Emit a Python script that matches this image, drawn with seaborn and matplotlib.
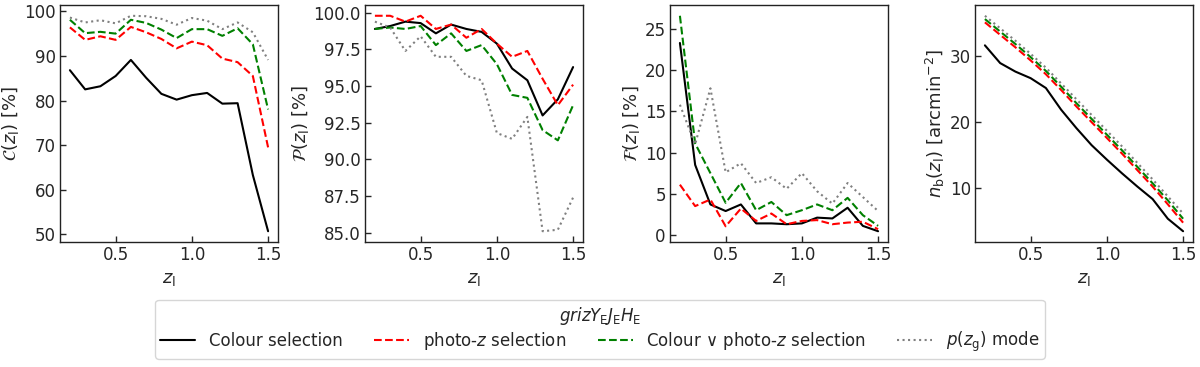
import numpy as np
import pandas as pd
import matplotlib
matplotlib.use("Agg")
import matplotlib.pyplot as plt
import seaborn as sns

z = [0.2, 0.3, 0.4, 0.5, 0.6, 0.7, 0.8, 0.9, 1.0, 1.1, 1.2, 1.3, 1.4, 1.5]
series_names = ["Colour selection", "photo-$z$ selection",
                r"Colour $\vee$ photo-$z$ selection", r"$p(z_{\rm g})$ mode"]

C_colour = [86.8, 82.5, 83.2, 85.5, 89.1, 85.1, 81.5, 80.2, 81.2, 81.7, 79.3, 79.4, 63.3, 50.7]
C_photoz = [96.4, 93.6, 94.4, 93.6, 96.5, 95.3, 93.8, 91.7, 93.2, 92.4, 89.4, 88.6, 85.5, 69.5]
C_union = [98.1, 95.1, 95.4, 95.0, 98.1, 97.4, 95.9, 94.0, 96.0, 96.0, 94.5, 96.2, 92.6, 78.0]
C_mode = [98.6, 97.5, 98.0, 97.3, 99.0, 98.9, 98.3, 97.0, 98.5, 97.9, 96.0, 97.5, 95.3, 89.1]

P_colour = [98.9, 99.1, 99.4, 99.3, 98.6, 99.2, 98.9, 98.7, 97.9, 96.2, 95.4, 93.0, 94.1, 96.3]
P_photoz = [99.8, 99.8, 99.4, 99.8, 98.9, 99.2, 98.3, 98.9, 97.9, 97.0, 97.4, 95.5, 93.7, 95.1]
P_union = [98.9, 99.0, 98.9, 99.1, 97.8, 98.6, 97.4, 97.8, 96.5, 94.4, 94.2, 92.0, 91.3, 93.7]
P_mode = [99.4, 99.0, 97.4, 98.4, 97.0, 97.0, 95.7, 95.4, 91.8, 91.4, 92.9, 85.1, 85.2, 87.4]

F_colour = [23.3, 8.5, 3.7, 2.9, 3.7, 1.4, 1.4, 1.3, 1.4, 2.1, 2.0, 3.3, 1.1, 0.45]
F_photoz = [6.1, 3.5, 4.3, 1.05, 3.2, 1.7, 2.6, 1.3, 1.7, 1.8, 1.3, 1.5, 1.6, 0.7]
F_union = [26.6, 11.1, 7.5, 3.9, 6.3, 3.0, 4.0, 2.4, 3.0, 3.7, 3.0, 4.5, 2.4, 1.1]
F_mode = [15.8, 11.0, 17.8, 7.6, 8.7, 6.3, 7.0, 5.6, 7.5, 5.3, 3.8, 6.3, 4.6, 2.9]

N_colour = [31.7, 29.0, 27.7, 26.7, 25.2, 21.9, 19.1, 16.5, 14.3, 12.2, 10.2, 8.3, 5.3, 3.4]
N_photoz = [35.2, 33.3, 31.4, 29.4, 27.3, 24.9, 22.4, 20.0, 17.6, 15.2, 12.7, 10.2, 7.5, 4.7]
N_union = [35.7, 33.8, 31.9, 29.9, 27.8, 25.4, 22.9, 20.5, 18.1, 15.7, 13.2, 10.7, 8.1, 5.3]
N_mode = [36.2, 34.3, 32.4, 30.4, 28.3, 25.9, 23.5, 21.1, 18.7, 16.3, 13.8, 11.3, 8.7, 6.1]

ylabels = [r"$\mathcal{C}(z_{\rm l})$ [%]", r"$\mathcal{P}(z_{\rm l})$ [%]",
           r"$\mathcal{F}(z_{\rm l})$ [%]", r"$n_{\rm b}(z_{\rm l})$ [arcmin$^{-2}$]"]
legend_title = r"$grizY_{\rm E}J_{\rm E}H_{\rm E}$"

panels = [
    [C_colour, C_photoz, C_union, C_mode],
    [P_colour, P_photoz, P_union, P_mode],
    [F_colour, F_photoz, F_union, F_mode],
    [N_colour, N_photoz, N_union, N_mode],
]

colors = ["black", "red", "green", "gray"]
styles = ["-", "--", "--", ":"]

sns.set_style("white")
plt.rcParams["font.family"] = ["DejaVu Sans"]
plt.rcParams["mathtext.fontset"] = "dejavusans"

fig = plt.figure(figsize=(12, 3.67), dpi=100)
lefts = [60, 365, 670, 975]
W, H = 1200, 367
axes = []
for i, l in enumerate(lefts):
    ax = fig.add_axes([l / W, 1 - 242 / H, 218 / W, 237 / H])
    axes.append(ax)
    for j, vals in enumerate(panels[i]):
        df = pd.DataFrame({"z": z, "v": vals})
        sns.lineplot(data=df, x="z", y="v", ax=ax, color=colors[j],
                     linestyle=styles[j], lw=1.5, label=series_names[j],
                     legend=False)
    ax.set_xlabel(r"$z_{\rm l}$", fontsize=13, labelpad=4)
    ax.set_ylabel(ylabels[i], fontsize=13, labelpad=2)
    ax.set_xticks([0.5, 1.0, 1.5])
    ax.tick_params(direction="in", labelsize=12, length=4, width=1,
                   left=True, bottom=True, top=False, right=False, pad=3)
    for s in ax.spines.values():
        s.set_color("#222222")
        s.set_linewidth(1.0)

axes[1].set_yticks([85.0, 87.5, 90.0, 92.5, 95.0, 97.5, 100.0])
axes[1].set_yticklabels(["85.0", "87.5", "90.0", "92.5", "95.0", "97.5", "100.0"])
axes[3].set_yticks([10, 20, 30])

handles = axes[0].lines[:4]
leg = fig.legend(handles, series_names, loc="lower center",
                 bbox_to_anchor=(0.5, 0.0), ncol=4, title=legend_title,
                 fontsize=12, title_fontsize=12, frameon=True, handlelength=2.1,
                 columnspacing=1.9, borderpad=0.3, labelspacing=0.15,
                 handletextpad=0.8)
leg.get_frame().set_edgecolor("#cccccc")

fig.savefig("out.png", dpi=100)
